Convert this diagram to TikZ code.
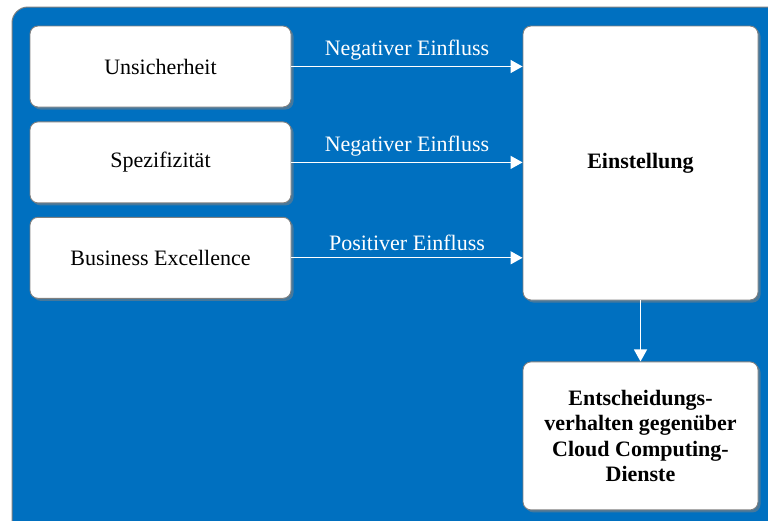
\documentclass[tikz,border=0pt]{standalone}
\usepackage{fontspec}
\setmainfont{Liberation Serif}
\usetikzlibrary{positioning,arrows.meta,shadows}
\definecolor{bgblue}{HTML}{0070C0}
\tikzset{
	factor/.style={draw=gray, line width=0.9pt, fill=white, rounded corners=8pt,
		minimum width=261pt, minimum height=81pt,
		drop shadow={shadow xshift=2.5pt, shadow yshift=-2.5pt, opacity=0.55},
		font=\fontsize{22}{25.5}\selectfont},
	flow/.style={white, line width=1.3pt, -{Triangle[width=13pt,length=12pt]}},
	effect/.style={above, text=white, inner sep=6pt, font=\fontsize{22}{25.5}\selectfont}
}
\begin{document}
\begin{tikzpicture}[x=1pt,y=-1pt]
	\useasboundingbox (0,0) rectangle (768,520);
	
	% Draw blue panel
	\begin{scope}
		\clip (0,0) rectangle (768,520);
		\draw[gray, line width=1pt, fill=bgblue, rounded corners=16pt] (12,7) rectangle (800,550);
	\end{scope}
	
	% Draw factor boxes
	\node[factor] (unsicher) at (160.5,66.5) {Unsicherheit};
	\node[factor, below=14pt of unsicher] (spezif) {Spezifizität};
	\node[factor, below=13.5pt of spezif] (business) {Business Excellence};
	
	% Draw attitude and decision boxes
	\node[factor, minimum width=235pt, minimum height=274pt, font=\fontsize{22}{25.5}\selectfont\bfseries]
		(einstellung) at (640.5,163) {Einstellung};
	\node[factor, minimum width=235pt, minimum height=148pt, align=center,
		font=\fontsize{22}{25.5}\selectfont\bfseries, below=61pt of einstellung]
		(entscheidung) {Entscheidungs-\\verhalten gegenüber\\Cloud Computing-\\Dienste};
	
	% Draw influence arrows
	\foreach \src/\lbl in {unsicher/Negativer Einfluss, spezif/Negativer Einfluss, business/Positiver Einfluss}
	\draw[flow] (\src.east) -- (\src.east -| einstellung.west) node[effect, midway] {\lbl};
	
	\draw[flow] (einstellung) -- (entscheidung);
	
\end{tikzpicture}
\end{document}
